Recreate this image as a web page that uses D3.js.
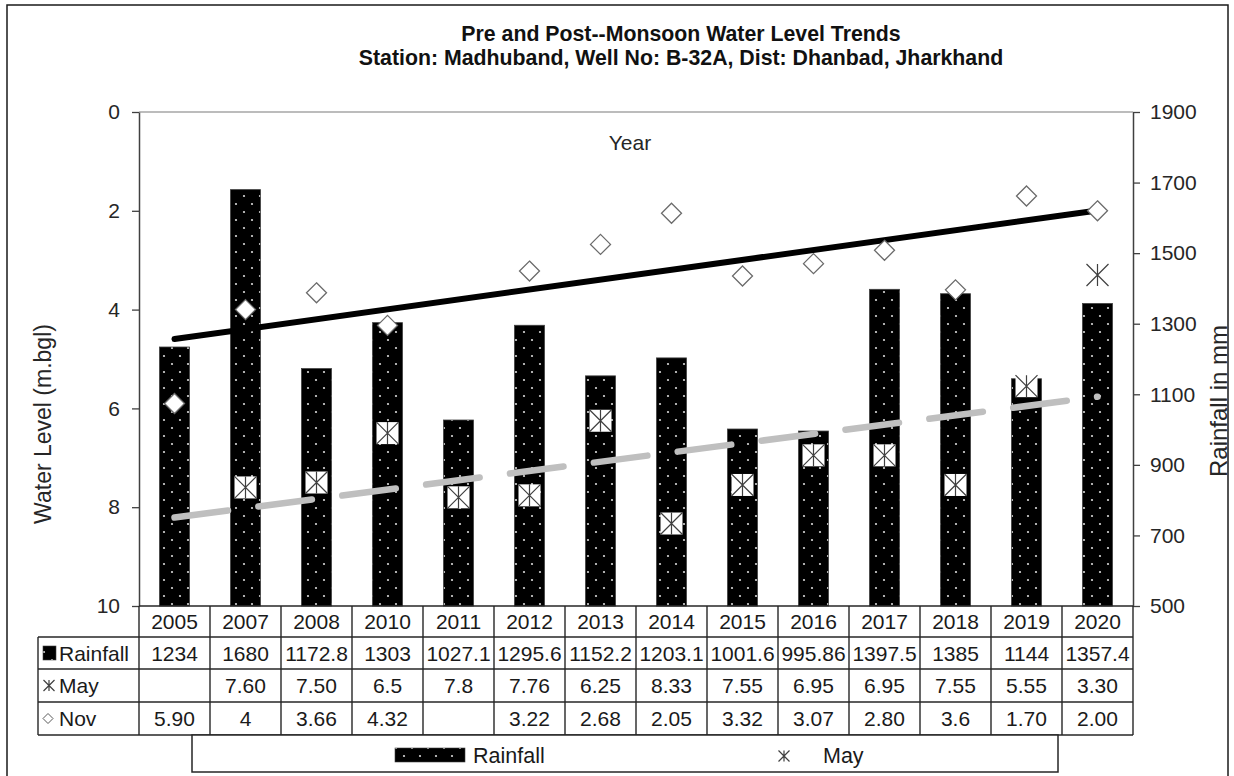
<!DOCTYPE html>
<html>
<head>
<meta charset="utf-8">
<script src="https://cdn.jsdelivr.net/npm/d3@7"></script>
<style>
  html, body { margin: 0; padding: 0; background: #fff; }
  svg { display: block; font-family: "Liberation Sans", Arial, sans-serif; }
</style>
</head>
<body>
<svg id="chart" width="1234" height="776"></svg>
<script>
// Station: Madhuband, Well B-32A — yearly rainfall with pre (May) and post (Nov) monsoon water levels
const years = ["2005","2007","2008","2010","2011","2012","2013","2014","2015","2016","2017","2018","2019","2020"];
const rainfallText = ["1234","1680","1172.8","1303","1027.1","1295.6","1152.2","1203.1","1001.6","995.86","1397.5","1385","1144","1357.4"];
const mayText = ["","7.60","7.50","6.5","7.8","7.76","6.25","8.33","7.55","6.95","6.95","7.55","5.55","3.30"];
const novText = ["5.90","4","3.66","4.32","","3.22","2.68","2.05","3.32","3.07","2.80","3.6","1.70","2.00"];
const levelTicks = [0, 2, 4, 6, 8, 10];
const rainTicks = [500, 700, 900, 1100, 1300, 1500, 1700, 1900];

const toNum = s => (s === "" ? null : +s);
const rainfall = rainfallText.map(toNum);
const may = mayText.map(toNum);
const nov = novText.map(toNum);

const svg = d3.select("#chart");
const plot = { left: 139, right: 1133, top: 112, bottom: 606 };

const x = d3.scaleBand().domain(years).range([plot.left, plot.right]).padding(0);
const yLevel = d3.scaleLinear().domain([0, 10]).range([plot.top, plot.bottom]);
const yRain = d3.scaleLinear().domain([500, 1900]).range([plot.bottom, plot.top]);
const cx = y => x(y) + x.bandwidth() / 2;

// dotted fill for rainfall bars
const defs = svg.append("defs");
const pat = defs.append("pattern").attr("id", "dots")
  .attr("patternUnits", "userSpaceOnUse").attr("width", 16).attr("height", 16);
pat.append("rect").attr("width", 16).attr("height", 16).attr("fill", "#000");
pat.append("circle").attr("cx", 4).attr("cy", 4).attr("r", 1.1).attr("fill", "#d9d9d9");
pat.append("circle").attr("cx", 12).attr("cy", 12).attr("r", 1.1).attr("fill", "#d9d9d9");

// outer frame
svg.append("rect").attr("x", 7).attr("y", 5).attr("width", 1221).attr("height", 790)
  .attr("fill", "none").attr("stroke", "#1a1a1a").attr("stroke-width", 1.5);

// title
const title = svg.append("text").attr("text-anchor", "middle").attr("font-weight", "bold")
  .attr("font-size", 21.3).attr("fill", "#111");
title.append("tspan").attr("x", 681).attr("y", 41).text("Pre and Post--Monsoon Water Level Trends");
title.append("tspan").attr("x", 681).attr("y", 65).text("Station: Madhuband, Well No: B-32A, Dist: Dhanbad, Jharkhand");

// plot top edge
svg.append("line").attr("x1", plot.left).attr("x2", plot.right).attr("y1", plot.top).attr("y2", plot.top)
  .attr("stroke", "#a6a6a6").attr("stroke-width", 1.3);

// axes
const leftAxis = svg.append("g").attr("transform", `translate(${plot.left},0)`)
  .call(d3.axisLeft(yLevel).tickValues(levelTicks).tickSize(7).tickSizeOuter(0).tickPadding(12));
const rightAxis = svg.append("g").attr("transform", `translate(${plot.right},0)`)
  .call(d3.axisRight(yRain).tickValues(rainTicks).tickFormat(d3.format("d"))
    .tickSize(7).tickSizeOuter(0).tickPadding(10));
[leftAxis, rightAxis].forEach(g => {
  g.selectAll("path").attr("stroke", "#404040").attr("stroke-width", 1.5);
  g.selectAll("line").attr("stroke", "#404040").attr("stroke-width", 1.3);
  g.selectAll("text").attr("font-size", 21).attr("fill", "#262626")
    .attr("font-family", "Liberation Sans, Arial, sans-serif");
});

// axis titles
svg.append("text").attr("transform", "translate(51,424) rotate(-90)").attr("text-anchor", "middle")
  .attr("font-size", 23).attr("fill", "#262626").text("Water Level (m.bgl)");
svg.append("text").attr("transform", "translate(1227,401) rotate(-90)").attr("text-anchor", "middle")
  .attr("font-size", 24).attr("fill", "#262626").text("Rainfall in mm");
svg.append("text").attr("x", 630).attr("y", 150).attr("text-anchor", "middle")
  .attr("font-size", 21).attr("fill", "#262626").text("Year");

// rainfall bars
const barW = 30;
svg.append("g").selectAll("rect").data(years).join("rect")
  .attr("x", (d) => cx(d) - barW / 2)
  .attr("width", barW)
  .attr("y", (d, i) => yRain(rainfall[i]))
  .attr("height", (d, i) => plot.bottom - yRain(rainfall[i]))
  .attr("fill", "url(#dots)")
  .attr("stroke", "#404040").attr("stroke-width", 0.8);

// least-squares trend over category positions 1..n
function trend(values) {
  const pts = values.map((v, i) => [i + 1, v]).filter(p => p[1] !== null);
  const mx = d3.mean(pts, p => p[0]), my = d3.mean(pts, p => p[1]);
  const sxy = d3.sum(pts, p => (p[0] - mx) * (p[1] - my));
  const sxx = d3.sum(pts, p => (p[0] - mx) ** 2);
  const b = sxy / sxx, a = my - b * mx;
  return [[years[0], a + b * 1], [years[years.length - 1], a + b * years.length]];
}
const line = d3.line().x(d => cx(d[0])).y(d => yLevel(d[1]));

svg.append("path").datum(trend(nov)).attr("d", line)
  .attr("fill", "none").attr("stroke", "#000").attr("stroke-width", 6).attr("stroke-linecap", "round");
const mayTrend = svg.append("path").datum(trend(may)).attr("d", line)
  .attr("fill", "none").attr("stroke", "#bfbfbf").attr("stroke-width", 6.5)
  .attr("stroke-linecap", "round");
// long-dash pattern: eleven dash/gap periods, the last dash starting right at the end point
const period = mayTrend.node().getTotalLength() / 11.005;
mayTrend.attr("stroke-dasharray", `${period * 0.638} ${period * 0.362}`);

// Nov markers (diamonds)
const diamond = r => `M0,${-r}L${r},0L0,${r}L${-r},0Z`;
svg.append("g").selectAll("path").data(years.filter((d, i) => nov[i] !== null)).join("path")
  .attr("transform", d => `translate(${cx(d)},${yLevel(nov[years.indexOf(d)])})`)
  .attr("d", diamond(10))
  .attr("fill", "#fff").attr("stroke", "#6b6b6b").attr("stroke-width", 1.3);

// May markers (asterisk on a white square)
function asterisk(g, s, box) {
  if (box) g.append("rect").attr("x", -s).attr("y", -s).attr("width", 2 * s).attr("height", 2 * s).attr("fill", "#fff");
  g.append("path").attr("d", `M${-s},${-s}L${s},${s}M${s},${-s}L${-s},${s}M0,${-s}L0,${s}`)
    .attr("stroke", "#404040").attr("stroke-width", 1.2).attr("fill", "none");
}
svg.append("g").selectAll("g").data(years.filter((d, i) => may[i] !== null)).join("g")
  .attr("transform", d => `translate(${cx(d)},${yLevel(may[years.indexOf(d)])})`)
  .each(function () { asterisk(d3.select(this), 11, true); });

// data table
const rowsY = [606, 637, 669, 702, 735];
const tableLeft = 38;
const tbl = svg.append("g").attr("font-size", 21).attr("fill", "#1a1a1a");
const stroke = sel => sel.attr("stroke", "#262626").attr("stroke-width", 1.4);

tbl.append("line").attr("x1", plot.left).attr("x2", plot.right).attr("y1", rowsY[0]).attr("y2", rowsY[0]).call(stroke);
rowsY.slice(1).forEach(y => tbl.append("line").attr("x1", tableLeft).attr("x2", plot.right).attr("y1", y).attr("y2", y).call(stroke));
tbl.append("line").attr("x1", tableLeft).attr("x2", tableLeft).attr("y1", rowsY[1]).attr("y2", rowsY[4]).call(stroke);
years.concat(["end"]).forEach((d, i) => {
  const xx = plot.left + i * x.bandwidth();
  tbl.append("line").attr("x1", xx).attr("x2", xx).attr("y1", rowsY[0]).attr("y2", rowsY[4]).call(stroke);
});

const rowTexts = [years, rainfallText, mayText, novText];
rowTexts.forEach((arr, r) => {
  const ym = (rowsY[r] + rowsY[r + 1]) / 2;
  tbl.append("g").selectAll("text").data(arr).join("text")
    .attr("x", (d, i) => cx(years[i])).attr("y", ym).attr("dy", "0.36em")
    .attr("text-anchor", "middle").text(d => d);
});

// row headers with keys
const rowMid = r => (rowsY[r] + rowsY[r + 1]) / 2;
tbl.append("rect").attr("x", 43).attr("y", rowMid(1) - 7).attr("width", 13).attr("height", 14)
  .attr("fill", "url(#dots)").attr("stroke", "#404040").attr("stroke-width", 0.6);
tbl.append("text").attr("x", 59).attr("y", rowMid(1)).attr("dy", "0.36em").text("Rainfall");
asterisk(tbl.append("g").attr("transform", `translate(49,${rowMid(2)})`), 5.5, false);
tbl.append("text").attr("x", 59).attr("y", rowMid(2)).attr("dy", "0.36em").text("May");
tbl.append("path").attr("transform", `translate(48,${rowMid(3)})`).attr("d", diamond(5))
  .attr("fill", "#fff").attr("stroke", "#595959").attr("stroke-width", 1);
tbl.append("text").attr("x", 59).attr("y", rowMid(3)).attr("dy", "0.36em").text("Nov");

// legend
const lg = svg.append("g").attr("font-size", 21.5).attr("fill", "#1a1a1a");
lg.append("rect").attr("x", 192).attr("y", 735).attr("width", 866).attr("height", 37)
  .attr("fill", "#fff").attr("stroke", "#262626").attr("stroke-width", 1.5);
lg.append("rect").attr("x", 395).attr("y", 748).attr("width", 70).attr("height", 14)
  .attr("fill", "url(#dots)").attr("stroke", "#404040").attr("stroke-width", 0.6);
lg.append("text").attr("x", 473).attr("y", 755).attr("dy", "0.36em").text("Rainfall");
asterisk(lg.append("g").attr("transform", "translate(784,756)"), 5.5, false);
lg.append("text").attr("x", 823).attr("y", 755).attr("dy", "0.36em").text("May");
</script>
</body>
</html>
